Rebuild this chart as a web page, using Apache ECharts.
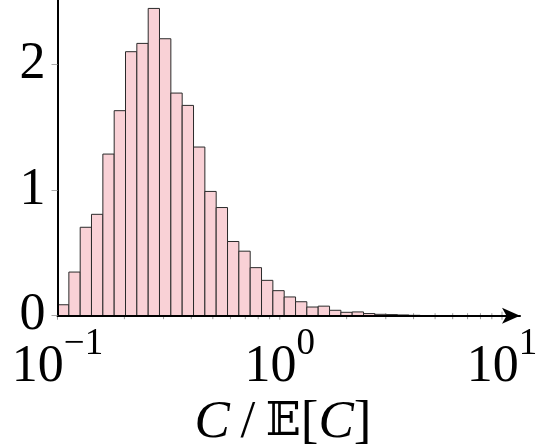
<!DOCTYPE html>
<html>
<head>
<meta charset="utf-8">
<script src="https://cdn.jsdelivr.net/npm/echarts@6/dist/echarts.min.js"></script>
<style>
html,body{margin:0;padding:0;background:#fff;}
#chart{width:542px;height:448px;}
</style>
</head>
<body>
<div id="chart"></div>
<script>
// Histogram bin edges (log-spaced), density values per bin
var binEdges = [0.1, 0.1125, 0.1265, 0.1422, 0.1600, 0.1799, 0.2023, 0.2275, 0.2559, 0.2877,
  0.3236, 0.3639, 0.4093, 0.4603, 0.5176, 0.5821, 0.6546, 0.7362, 0.8279, 0.9311,
  1.047, 1.178, 1.324, 1.489, 1.675, 1.884, 2.118, 2.382, 2.679, 3.013, 3.388, 3.811, 4.285];
var density = [0.087, 0.347, 0.703, 0.806, 1.285, 1.630, 2.099, 2.165, 2.443, 2.202,
  1.770, 1.672, 1.341, 0.988, 0.860, 0.590, 0.513, 0.382, 0.281, 0.199,
  0.149, 0.111, 0.069, 0.076, 0.043, 0.027, 0.030, 0.017, 0.011, 0.009, 0.006, 0.003];
var majorTicks = [0.1, 1, 10];
var minorTicks = [0.2,0.3,0.4,0.5,0.6,0.7,0.8,0.9,2,3,4,5,6,7,8,9];
var yTicks = [0, 1, 2];

var barData = density.map(function (h, i) { return [binEdges[i], binEdges[i + 1], h]; });
var tickData = majorTicks.map(function (v) { return [v, 1]; })
  .concat(minorTicks.map(function (v) { return [v, 0]; }));

var chart = echarts.init(document.getElementById('chart'), null, {renderer: 'canvas'});
var FONT = '"Liberation Serif", "DejaVu Serif", serif';

chart.setOption({
  animation: false,
  backgroundColor: '#fff',
  title: {
    text: '{i|C}{n|\u2009/\u2009}{bb|𝔼}{n|[}{i|C}{n|]}',
    left: 278,
    textAlign: 'center',
    top: 392,
    textStyle: {
      fontWeight: 'normal',
      rich: {
        i: {fontFamily: FONT, fontStyle: 'italic', fontWeight: 'normal', fontSize: 53, color: '#000'},
        n: {fontFamily: FONT, fontWeight: 'normal', fontSize: 53, color: '#000'},
        bb: {fontFamily: '"DejaVu Serif", "DejaVu Sans", serif', fontWeight: 'normal', fontSize: 46, color: '#000'}
      }
    }
  },
  grid: {left: 57.5, right: 22, top: 0, bottom: 132.3, containLabel: false, outerBoundsMode: 'none'},
  xAxis: {
    type: 'log',
    logBase: 10,
    min: 0.1,
    max: 12.05,
    z: 10,
    axisLine: {show: true, lineStyle: {color: '#000', width: 2},
      symbol: ['none', 'arrow'], symbolSize: [12, 18]},
    axisTick: {show: false},
    splitLine: {show: false},
    axisLabel: {
      margin: 10,
      showMaxLabel: false,
      formatter: function (v) {
        var e = Math.round(Math.log10(v));
        if (Math.abs(v - Math.pow(10, e)) / v > 1e-6) return '';
        var s = e < 0 ? '\u2212' + (-e) : '' + e;
        return '{b|10}{s|' + s + '}';
      },
      rich: {
        b: {fontFamily: FONT, fontSize: 52, color: '#000', lineHeight: 68, verticalAlign: 'bottom'},
        s: {fontFamily: FONT, fontSize: 37, color: '#000', lineHeight: 37, verticalAlign: 'top'}
      }
    }
  },
  yAxis: {
    type: 'value',
    min: 0,
    max: 2.51,
    interval: 1,
    z: 10,
    axisLine: {show: true, lineStyle: {color: '#000', width: 2}},
    axisTick: {show: true, length: 6, lineStyle: {color: '#aaa', width: 1}},
    splitLine: {show: false},
    axisLabel: {
      margin: 12,
      showMaxLabel: false,
      fontFamily: FONT,
      fontSize: 52,
      color: '#000',
      formatter: function (v) { return yTicks.indexOf(v) >= 0 ? String(v) : ''; }
    }
  },
  series: [
    {
      type: 'custom',
      z: 1,
      data: tickData,
      renderItem: function (params, api) {
        var p = api.coord([api.value(0), 0]);
        var major = api.value(1) === 1;
        return {
          type: 'line',
          shape: {x1: p[0], y1: p[1] - (major ? 4 : 2.5), x2: p[0], y2: p[1] + (major ? 4 : 3.5)},
          style: {stroke: '#999', lineWidth: 1}
        };
      }
    },
    {
      type: 'custom',
      z: 2,
      data: barData,
      renderItem: function (params, api) {
        var p0 = api.coord([api.value(0), api.value(2)]);
        var p1 = api.coord([api.value(1), 0]);
        return {
          type: 'rect',
          shape: {x: p0[0], y: p0[1], width: p1[0] - p0[0], height: p1[1] - p0[1]},
          style: {fill: '#f9d1d6', stroke: '#2a2a2a', lineWidth: 1}
        };
      }
    }
  ]
});
</script>
</body>
</html>
